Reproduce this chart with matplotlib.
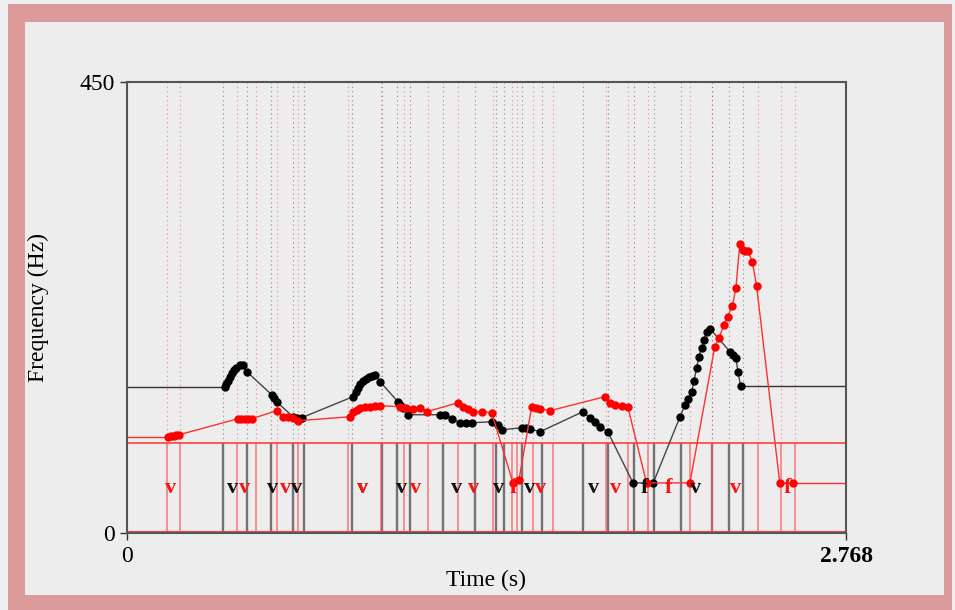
import matplotlib
matplotlib.use('Agg')
import matplotlib.pyplot as plt
from matplotlib.patches import Rectangle

# pitch contour of the first recording (black)
black_t = [0.377, 0.383, 0.389, 0.397, 0.404, 0.412, 0.420, 0.435, 0.447, 0.461,
           0.557, 0.566, 0.576, 0.639, 0.655, 0.672,
           0.870, 0.880, 0.889, 0.898, 0.908, 0.920, 0.931, 0.943, 0.955, 0.974,
           1.043, 1.052, 1.062, 1.082, 1.205, 1.224, 1.251, 1.282, 1.305, 1.327,
           1.404, 1.428, 1.442, 1.519, 1.535, 1.551, 1.590,
           1.755, 1.782, 1.800, 1.821, 1.851, 1.948, 2.026,
           2.129, 2.148, 2.160, 2.174, 2.183, 2.193, 2.202, 2.212, 2.222, 2.231, 2.244,
           2.321, 2.333, 2.344, 2.352, 2.362]
black_f = [146, 149, 152, 156, 160, 163, 165, 168, 168, 161,
           138, 135, 131, 116, 115, 115,
           136, 141, 145, 149, 152, 154, 156, 157, 158, 151,
           131, 128, 125, 118, 118, 118, 114, 110, 110, 110,
           111, 108, 103, 105, 105, 104, 101,
           121, 115, 111, 106, 101, 50, 50,
           116, 128, 134, 141, 152, 165, 176, 185, 193, 201, 204,
           181, 178, 175, 161, 147]

# pitch contour of the second recording (red)
red_t = [0.158, 0.170, 0.180, 0.190, 0.200, 0.427, 0.440, 0.453, 0.467, 0.480,
         0.576, 0.600, 0.620, 0.639, 0.658,
         0.858, 0.870, 0.885, 0.897, 0.915, 0.935, 0.955, 0.974, 1.051, 1.075,
         1.101, 1.128, 1.154, 1.274, 1.293, 1.312, 1.332, 1.368, 1.404,
         1.486, 1.509, 1.558, 1.575, 1.590, 1.628,
         1.840, 1.859, 1.880, 1.905, 1.928, 2.000, 2.167,
         2.263, 2.280, 2.298, 2.312, 2.330, 2.344, 2.359, 2.372, 2.381, 2.391,
         2.408, 2.424, 2.513, 2.565]
red_f = [96, 97, 97, 98, 98, 114, 114, 114, 114, 114,
         122, 116, 116, 115, 112,
         116, 121, 123, 125, 126, 126, 127, 127, 126, 125,
         124, 125, 121, 130, 126, 124, 121, 121, 120,
         50, 53, 126, 125, 124, 122,
         136, 130, 128, 127, 126, 50, 50,
         186, 195, 208, 216, 226, 244, 288, 282, 281, 281,
         270, 246, 50, 50]

# interval boundaries (s) of the two segmentations
black_bounds = [0.371, 0.463, 0.554, 0.638, 0.681, 0.867, 0.981, 1.038, 1.089,
                1.215, 1.340, 1.421, 1.453, 1.519, 1.596, 1.757, 1.851, 1.953,
                2.030, 2.132, 2.253, 2.319, 2.370]
red_bounds = [0.153, 0.204, 0.422, 0.497, 0.576, 0.659, 0.852, 0.979, 1.068,
              1.160, 1.273, 1.408, 1.481, 1.500, 1.564, 1.639, 1.844, 1.930,
              2.007, 2.167, 2.253, 2.430, 2.518, 2.572]

# interval labels (position in s, text)
black_labels = [(0.405, 'v'), (0.559, 'v'), (0.653, 'v'), (0.905, 'v'), (1.058, 'v'),
                (1.269, 'v'), (1.429, 'v'), (1.549, 'v'), (1.795, 'v'), (1.994, 'f'),
                (2.187, 'v')]
red_labels = [(0.169, 'v'), (0.452, 'v'), (0.611, 'v'), (0.906, 'v'), (1.111, 'v'),
              (1.336, 'v'), (1.490, 'f'), (1.593, 'v'), (1.879, 'v'), (2.084, 'f'),
              (2.341, 'v'), (2.543, 'f')]

t_end = 2.768
f_max = 450
tier_top = 90

serif = 'Liberation Serif'

fig = plt.figure(figsize=(9.55, 6.10), dpi=100)
fig.patch.set_facecolor('#efefef')
W, H = 955, 610
# pink frame and grey panel behind everything
fig.patches.append(Rectangle((8 / W, 0), (952 - 8) / W, (610 - 4) / H,
                             transform=fig.transFigure, facecolor='#dc9a9a',
                             edgecolor='none', zorder=-10))
fig.patches.append(Rectangle((25 / W, (610 - 595) / H), (944 - 25) / W, (595 - 22) / H,
                             transform=fig.transFigure, facecolor='#ededed',
                             edgecolor='none', zorder=-9))

ax = fig.add_axes([127 / W, (610 - 533) / H, (846 - 127) / W, (533 - 82) / H])
ax.set_zorder(5)
ax.set_facecolor('none')
ax.set_xlim(0, t_end)
ax.set_ylim(0, f_max)

# dotted boundary lines above the tier
ax.vlines(black_bounds, tier_top, f_max, colors='#555555', linestyles=(0, (1, 3)),
          linewidth=0.8, alpha=0.65)
ax.vlines(red_bounds, tier_top, f_max, colors='#ff3030', linestyles=(0, (1, 3)),
          linewidth=0.8, alpha=0.55)

# tier box and boundaries
ax.vlines(black_bounds, 0, tier_top, colors='#555555', linewidth=1.7, alpha=0.8)
ax.vlines(red_bounds, 0, tier_top, colors='#ff5050', linewidth=1.2, alpha=0.7)
ax.plot([0, t_end], [tier_top, tier_top], color='#ff4040', lw=1.2)
ax.plot([0, t_end], [0.8, 0.8], color='#ff4040', lw=1.5)
ax.vlines([0, t_end], 0, tier_top, colors='#ff4040', linewidth=1.2)

for t, s in black_labels:
    ax.text(t, 45, s, color='#111111', fontsize=16, family=serif,
            fontweight='bold', ha='center', va='center')
for t, s in red_labels:
    ax.text(t, 45, s, color='#ff1010', fontsize=16, family=serif,
            fontweight='bold', ha='center', va='center')

# held values before the first and after the last pitch point
ax.plot([0, black_t[0]], [black_f[0], black_f[0]], color='#333333', lw=1)
ax.plot([black_t[-1], t_end], [black_f[-1], black_f[-1]], color='#333333', lw=1)
ax.plot([0, red_t[0]], [red_f[0], red_f[0]], color='#ff3030', lw=1)
ax.plot([red_t[-1], t_end], [red_f[-1], red_f[-1]], color='#ff3030', lw=1)

ax.plot(black_t, black_f, color='#444444', lw=1, marker='o', ms=5,
        mfc='black', mec='black')
ax.plot(red_t, red_f, color='#ff3030', lw=1, marker='o', ms=5,
        mfc='red', mec='red')

for side in ['left', 'right', 'top', 'bottom']:
    ax.spines[side].set_color('#555555')
    ax.spines[side].set_linewidth(1.5)

ax.set_xticks([0, t_end])
ax.set_xticklabels(['0', '2.768'])
ax.set_yticks([0, f_max])
ax.set_yticklabels(['0', '450'])
ax.tick_params(direction='out', length=5, width=1, color='#333333', pad=4)
for lab in ax.get_xticklabels() + ax.get_yticklabels():
    lab.set_family(serif)
    lab.set_fontsize(17)
ax.get_xticklabels()[1].set_fontweight('bold')

fig.text(486 / W, 1 - 580 / H, 'Time (s)', family=serif, fontsize=17,
         ha='center', va='center')
fig.text(38 / W, 1 - 307 / H, 'Frequency (Hz)', family=serif, fontsize=17,
         ha='center', va='center', rotation=90)

plt.savefig('out.png', dpi=100, facecolor=fig.get_facecolor())
